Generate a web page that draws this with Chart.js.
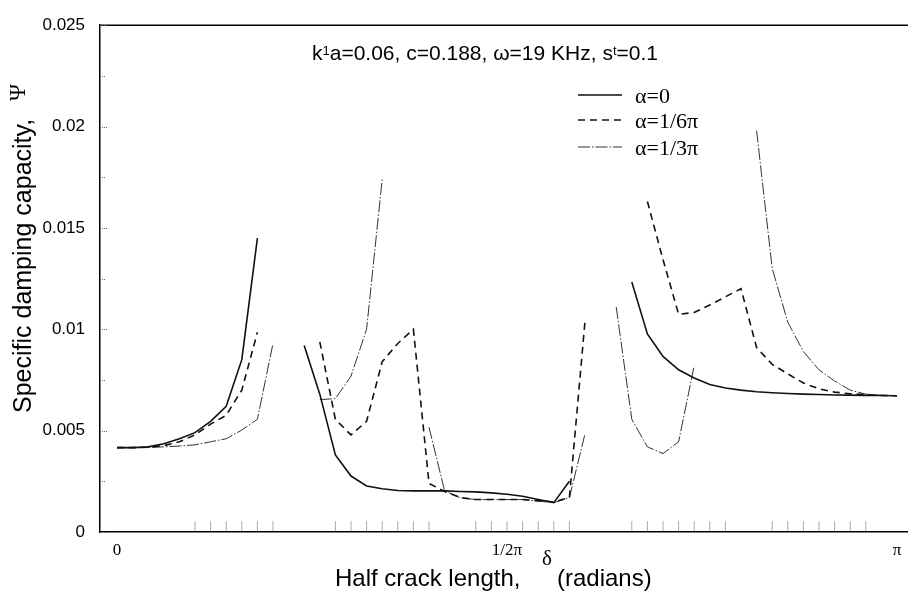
<!DOCTYPE html>
<html>
<head>
<meta charset="utf-8">
<script src="https://cdn.jsdelivr.net/npm/chart.js@4.4.0/dist/chart.umd.min.js"></script>
<style>
  html, body { margin: 0; padding: 0; background: #fff; overflow: hidden; }
  #wrap { width: 930px; height: 592px; }
</style>
</head>
<body>
<div id="wrap"><canvas id="chart"></canvas></div>
<script>
// half crack length, in units of pi
const deltaPi = [0, 0.02, 0.04, 0.06, 0.08, 0.10, 0.12, 0.14, 0.16, 0.18,
	0.20, 0.22, 0.24, 0.26, 0.28, 0.30, 0.32, 0.34, 0.36, 0.38,
	0.40, 0.42, 0.44, 0.46, 0.48, 0.50, 0.52, 0.54, 0.56, 0.58,
	0.60, 0.62, 0.64, 0.66, 0.68, 0.70, 0.72, 0.74, 0.76, 0.78,
	0.80, 0.82, 0.84, 0.86, 0.88, 0.90, 0.92, 0.94, 0.96, 0.98, 1.00];

// specific damping capacity for each alpha (null = discontinuity)
const alpha0 = [0.00416, 0.00416, 0.0042, 0.00435, 0.0046, 0.0049, 0.00546, 0.0062, 0.0085, 0.0145,
	null, null, 0.0092, 0.0068, 0.0038, 0.00276, 0.00227, 0.00213, 0.00205, 0.00203,
	0.00203, 0.00203, 0.002, 0.00198, 0.00193, 0.00186, 0.00176, 0.0016, 0.00145, 0.0025,
	null, null, null, 0.01233, 0.00977, 0.00866, 0.008, 0.0076, 0.00728, 0.0071,
	0.007, 0.00692, 0.00687, 0.00683, 0.0068, 0.00678, 0.00676, 0.00675, 0.00674, 0.00673, 0.00672];

const alpha16 = [0.00416, 0.00416, 0.00418, 0.00426, 0.00445, 0.00479, 0.00532, 0.00576, 0.007, 0.00985,
	null, null, null, 0.00938, 0.00556, 0.00479, 0.00546, 0.0084, 0.0093, 0.01,
	0.0024, 0.002, 0.0017, 0.0016, 0.0016, 0.0016, 0.0016, 0.00155, 0.00148, 0.0017,
	0.0104, null, null, null, 0.0163, 0.01344, 0.01074, 0.01083, 0.0112, 0.0116,
	0.012, 0.0091, 0.00827, 0.0078, 0.00735, 0.00706, 0.0069, 0.00682, 0.00677, 0.00673, 0.00672];

const alpha13 = [0.00416, 0.00416, 0.00417, 0.0042, 0.00424, 0.0043, 0.00445, 0.0046, 0.00503, 0.00556,
	0.0093, null, null, 0.00653, 0.00658, 0.00769, 0.01, 0.0174, null, null,
	0.00517, 0.00203, 0.00169, 0.0016, 0.0016, 0.0016, 0.0016, 0.00152, 0.00145, 0.00169,
	0.00484, null, 0.0111, 0.00556, 0.0042, 0.00387, 0.00445, 0.0082, null, null,
	null, 0.0198, 0.013, 0.01035, 0.0089, 0.008, 0.00745, 0.007, 0.0068, 0.00674, 0.00672];

// small dotted marks along the bottom axis
const sampleTicks = [0.10, 0.12, 0.14, 0.16, 0.18, 0.20,
	0.28, 0.30, 0.32, 0.34, 0.36, 0.38, 0.40,
	0.46, 0.48, 0.50, 0.52, 0.54, 0.56, 0.58,
	0.66, 0.68, 0.70, 0.72, 0.74, 0.76, 0.78,
	0.84, 0.86, 0.88, 0.90, 0.92, 0.94, 0.96];

const xTickValues = [0, 0.5, 1];
const xTickLabels = ['0', '1/2π', 'π'];
const seriesLabels = ['α=0', 'α=1/6π', 'α=1/3π'];
const annotationParts = [['k', false], ['1', true], ['a=0.06, c=0.188, ω=19 KHz, s', false], ['t', true], ['=0.1', false]];

const SANS = "Arial, 'Liberation Sans', sans-serif";
const SERIF = "'Times New Roman', 'Liberation Serif', serif";

function toPoints(values) {
	return deltaPi.map((x, i) => ({ x: x, y: values[i] }));
}

// Fondo blanco, marco superior, marcas internas del eje y
const framePlugin = {
	id: 'frame',
	beforeDraw(chart) {
		const ctx = chart.ctx;
		ctx.save();
		ctx.fillStyle = '#fff';
		ctx.fillRect(0, 0, chart.width, chart.height);
		ctx.restore();
	},
	afterDraw(chart) {
		const ctx = chart.ctx;
		const area = chart.chartArea;
		const yScale = chart.scales.y;
		ctx.save();
		ctx.strokeStyle = '#000';
		ctx.lineWidth = 1.5;
		ctx.beginPath();
		ctx.moveTo(area.left, area.top);
		ctx.lineTo(area.right, area.top);
		ctx.stroke();

		ctx.strokeStyle = '#666';
		ctx.lineWidth = 1;
		ctx.setLineDash([1, 1]);
		yScale.ticks.forEach(t => {
			const py = Math.round(yScale.getPixelForValue(t.value)) + 0.5;
			const major = t.label !== '';
			ctx.beginPath();
			ctx.moveTo(area.left, py);
			ctx.lineTo(area.left + (major ? 8 : 5), py);
			ctx.stroke();
		});
		ctx.restore();
	}
};

// Textos: títulos de ejes, anotación y leyenda
const textPlugin = {
	id: 'texts',
	afterDraw(chart) {
		const ctx = chart.ctx;
		ctx.save();
		ctx.fillStyle = '#000';
		ctx.textBaseline = 'alphabetic';
		ctx.textAlign = 'left';

		// y title (rotated)
		ctx.save();
		ctx.translate(31, 413);
		ctx.rotate(-Math.PI / 2);
		ctx.font = '25px ' + SANS;
		ctx.fillText('Specific damping capacity,', 0, 0);
		ctx.restore();
		ctx.save();
		ctx.translate(25, 101);
		ctx.rotate(-Math.PI / 2);
		ctx.font = '23px ' + SERIF;
		ctx.fillText('Ψ', 0, 0);
		ctx.restore();

		// x title
		ctx.font = '24px ' + SANS;
		ctx.fillText('Half crack length,', 335, 586);
		ctx.font = '21px ' + SERIF;
		ctx.fillText('δ', 542, 565);
		ctx.font = '24px ' + SANS;
		ctx.fillText('(radians)', 557, 586);

		// annotation
		let x = 312;
		annotationParts.forEach(([txt, small]) => {
			ctx.font = (small ? '13px ' : '21px ') + SANS;
			ctx.fillText(txt, x, small ? 55 : 60);
			x += ctx.measureText(txt).width;
		});

		// legend
		const rows = [95, 120, 147];
		chart.data.datasets.forEach((ds, i) => {
			if (ds.isMarks) return;
			const y = rows[i];
			ctx.save();
			ctx.strokeStyle = ds.borderColor;
			ctx.lineWidth = ds.borderWidth;
			ctx.setLineDash(ds.borderDash || []);
			ctx.beginPath();
			ctx.moveTo(578, y);
			ctx.lineTo(622, y);
			ctx.stroke();
			ctx.restore();
			ctx.font = '22px ' + SERIF;
			ctx.fillText(ds.label, 635, y + 8);
		});
		ctx.restore();
	}
};

const ctx = document.getElementById('chart').getContext('2d');
new Chart(ctx, {
	type: 'line',
	data: {
		datasets: [
			{
				label: seriesLabels[0],
				data: toPoints(alpha0),
				borderColor: '#111',
				borderWidth: 1.6,
				pointRadius: 0,
				tension: 0,
				spanGaps: false
			},
			{
				label: seriesLabels[1],
				data: toPoints(alpha16),
				borderColor: '#111',
				borderWidth: 1.6,
				borderDash: [7, 5],
				pointRadius: 0,
				tension: 0,
				spanGaps: false
			},
			{
				label: seriesLabels[2],
				data: toPoints(alpha13),
				borderColor: '#333',
				borderWidth: 1,
				borderDash: [12, 2, 1.5, 2],
				pointRadius: 0,
				tension: 0,
				spanGaps: false
			},
			{
				isMarks: true,
				label: 'marks',
				data: sampleTicks.map(x => ({ x: x, y: 0.00029 })),
				showLine: false,
				pointStyle: 'line',
				rotation: 90,
				pointRadius: 5,
				borderColor: '#aaa',
				borderWidth: 1
			}
		]
	},
	options: {
		responsive: true,
		maintainAspectRatio: false,
		animation: false,
		layout: { padding: { top: 15, right: 10, bottom: 0, left: 0 } },
		plugins: {
			legend: { display: false },
			tooltip: { enabled: false }
		},
		scales: {
			x: {
				type: 'linear',
				min: -17 / 780,
				max: 803 / 780,
				afterBuildTicks(scale) {
					scale.ticks = xTickValues.map(v => ({ value: v }));
				},
				afterFit(scale) { scale.height = 60; },
				ticks: {
					autoSkip: false,
					maxRotation: 0,
					padding: 8,
					color: '#000',
					font: { family: SERIF, size: 17 },
					callback: (v) => xTickLabels[xTickValues.indexOf(v)] || ''
				},
				grid: { display: false, drawTicks: false },
				border: { display: true, color: '#000', width: 1.5 }
			},
			y: {
				min: 0,
				max: 0.025,
				afterFit(scale) { scale.width = 100; },
				ticks: {
					stepSize: 0.0025,
					padding: 15,
					color: '#000',
					font: { family: SANS, size: 17 },
					callback: (v) => Math.round(v / 0.0025) % 2 ? '' : String(Number(v.toFixed(4)))
				},
				grid: { display: false, drawTicks: false },
				border: { display: true, color: '#000', width: 1.5 }
			}
		}
	},
	plugins: [framePlugin, textPlugin]
});
</script>
</body>
</html>
